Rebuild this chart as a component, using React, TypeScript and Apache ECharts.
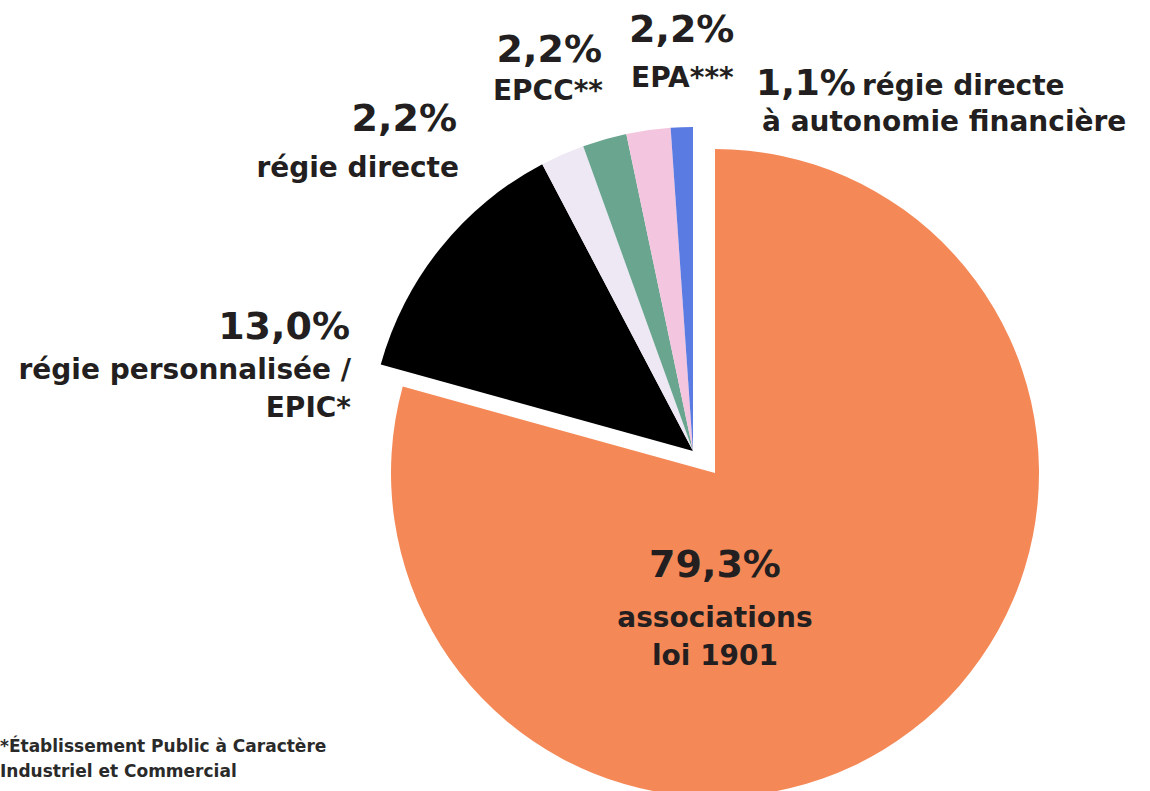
import React, { useEffect, useRef } from "react";
import * as echarts from "echarts";

const categories = [
  "associations\nloi 1901",
  "régie personnalisée /\nEPIC*",
  "régie directe",
  "EPCC**",
  "EPA***",
  "régie directe\nà autonomie financière",
];
const shares = [79.3, 13.0, 2.2, 2.2, 2.2, 1.1];
const sliceColors = ["#F48957", "#000000", "#EEE7F4", "#6AA58F", "#F3C5DE", "#5A7BE1"];
const footnoteLines = ["*Établissement Public à Caractère", "Industriel et Commercial"];

// label placement (layout only)
const labelLayout = [
  { pct: [715, 564], pctAlign: "center", lines: [[715, 617], [715, 655]], align: "center" },
  { pct: [350, 326], pctAlign: "right", lines: [[351, 369], [351, 407]], align: "right" },
  { pct: [457, 118], pctAlign: "right", lines: [[459, 167]], align: "right" },
  { pct: [602, 49], pctAlign: "right", lines: [[603, 90]], align: "right" },
  { pct: [629, 29], pctAlign: "left", lines: [[631, 77]], align: "left" },
  { pct: [806, 82], pctAlign: "center", lines: [[862, 85], [762, 121]], align: "left" },
];

const FONT = '"DejaVu Sans", sans-serif';
const TEXT_COLOR = "#231F20";

const fmtPct = (v: number) => v.toFixed(1).replace(".", ",") + "%";

function txt(text: string, x: number, y: number, align: string, size: number, weight: any, color = TEXT_COLOR) {
  return {
    type: "text",
    x,
    y,
    z: 100,
    zlevel: 0,
    silent: true,
    style: {
      text,
      fill: color,
      fontSize: size,
      fontWeight: weight,
      fontFamily: FONT,
      align,
      verticalAlign: "middle",
      textAlign: align,
      textVerticalAlign: "middle",
    },
  };
}

export default function App() {
  const ref = useRef<HTMLDivElement>(null);
  useEffect(() => {
    if (!ref.current) return;
    const chart = echarts.init(ref.current, null, { renderer: "svg" });

    const makeSeries = (visible: (i: number) => boolean, center: number[]) => ({
      type: "pie",
      silent: true,
      z: 1,
      center,
      radius: 324,
      startAngle: 90,
      clockwise: true,
      label: { show: false },
      labelLine: { show: false },
      emphasis: { disabled: true },
      data: shares.map((v, i) => ({
        value: v,
        name: categories[i],
        itemStyle: {
          color: visible(i) ? sliceColors[i] : "rgba(0,0,0,0)",
          borderWidth: 0,
        },
      })),
    });

    const graphics: any[] = [];
    shares.forEach((v, i) => {
      const lay = labelLayout[i];
      graphics.push(txt(fmtPct(v), lay.pct[0], lay.pct[1], lay.pctAlign, i === 5 ? 36 : 38, "bold"));
      const lines = categories[i].split("\n");
      lines.forEach((line, j) => {
        const p = lay.lines[j];
        graphics.push(txt(line, p[0], p[1], lay.align, 28, "bold"));
      });
    });
    footnoteLines.forEach((line, j) => {
      graphics.push(txt(line, 0, 746 + j * 25, "left", 17, "bold", "#2a2a2a"));
    });

    chart.setOption({
      animation: false,
      backgroundColor: "#ffffff",
      series: [
        makeSeries((i) => i === 0, [715, 473]),
        makeSeries((i) => i !== 0, [693, 451]),
      ],
      graphic: { elements: graphics },
    });
    return () => chart.dispose();
  }, []);
  return (
    <div
      ref={ref}
      style={{ position: "fixed", left: 0, top: 0, width: 1150, height: 791 }}
    />
  );
}
